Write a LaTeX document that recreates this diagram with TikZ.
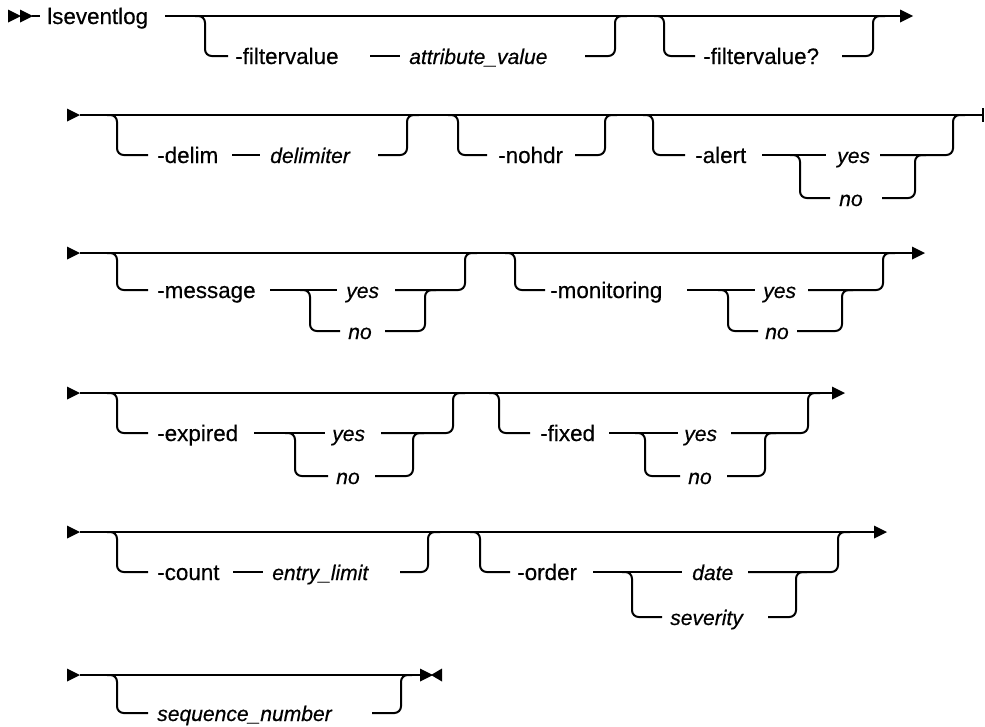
\documentclass[tikz,border=0pt]{standalone}
\usepackage{fontspec}
\setmainfont{Liberation Sans}
\newfontfamily\railfont[FakeBold=0.4]{Liberation Sans}
\begin{document}
\begin{tikzpicture}[x=0.75pt,y=-0.75pt,
  rail/.style={line width=1.5pt, rounded corners=5pt},
  kw/.style={anchor=base west, inner sep=0pt, font=\railfont\fontsize{16.8pt}{19pt}\selectfont},
  vr/.style={anchor=base west, inner sep=0pt, font=\railfont\fontsize{15.8pt}{19pt}\selectfont\itshape},
  rtri/.pic={\fill (0,-6.5) -- (13,0) -- (0,6.5) -- cycle;},
  ltri/.pic={\fill (0,-6.5) -- (-11,0) -- (0,6.5) -- cycle;}]
\useasboundingbox (0,0) rectangle (985,726);

% ---------------- Row 1 ----------------
\pic at (8,16) {rtri};
\pic at (20,16) {rtri};
\coordinate (s0) at (32,16); \coordinate (s1) at (40,16);
\draw[rail] (s0) -- (s1);
\node[kw] (cmd) at (47,24) {lseventlog};
\coordinate (r1a) at (165,16); \coordinate (r1z) at (900,16);
\draw[rail] (r1a) -- (r1z); \pic at (r1z) {rtri};
% -filtervalue attribute_value
\coordinate (a0) at (195,16); \coordinate (a1) at (205,56); \coordinate (a2) at (228,56);
\draw[rail] (a0) -| (a1) -- (a2);
\node[kw] (fv) at (235,64) {-filtervalue};
\coordinate (a3) at (370,56); \coordinate (a4) at (400,56);
\draw[rail] (a3) -- (a4);
\node[vr] (av) at (409,64) {attribute\_value};
\coordinate (a5) at (585,56); \coordinate (a6) at (615,16); \coordinate (a7) at (627,16);
\draw[rail] (a5) -| (a6) -- (a7);
% -filtervalue?
\coordinate (b0) at (654,16); \coordinate (b1) at (664,56); \coordinate (b2) at (695,56);
\draw[rail] (b0) -| (b1) -- (b2);
\node[kw] (fq) at (703,64) {-filtervalue?};
\coordinate (b3) at (842,56); \coordinate (b4) at (873,16); \coordinate (b5) at (885,16);
\draw[rail] (b3) -| (b4) -- (b5);

% ---------------- Row 2 ----------------
\pic at (67,115) {rtri};
\coordinate (r2a) at (80,115); \coordinate (r2z) at (983,115);
\draw[rail] (r2a) -- (r2z);
\coordinate (r2t1) at (983,108); \coordinate (r2t2) at (983,122);
\draw[line width=1.5pt] (r2t1) -- (r2t2);
% -delim delimiter
\coordinate (c0) at (107,115); \coordinate (c1) at (117,155); \coordinate (c2) at (148,155);
\draw[rail] (c0) -| (c1) -- (c2);
\node[kw] (dl) at (157,163) {-delim};
\coordinate (c3) at (232,155); \coordinate (c4) at (260,155);
\draw[rail] (c3) -- (c4);
\node[vr] (dv) at (270,163) {delimiter};
\coordinate (c5) at (378,155); \coordinate (c6) at (407,115); \coordinate (c7) at (419,115);
\draw[rail] (c5) -| (c6) -- (c7);
% -nohdr
\coordinate (d0) at (448,115); \coordinate (d1) at (458,155); \coordinate (d2) at (487,155);
\draw[rail] (d0) -| (d1) -- (d2);
\node[kw] (nh) at (498,163) {-nohdr};
\coordinate (d3) at (575,155); \coordinate (d4) at (605,115); \coordinate (d5) at (617,115);
\draw[rail] (d3) -| (d4) -- (d5);
% -alert yes|no
\coordinate (e0) at (643,115); \coordinate (e1) at (653,155); \coordinate (e2) at (685,155);
\draw[rail] (e0) -| (e1) -- (e2);
\node[kw] (al) at (695,163) {-alert};
\coordinate (e3) at (762,155); \coordinate (e4) at (826,155);
\draw[rail] (e3) -- (e4);
\node[vr] (ay) at (837,163) {yes};
\coordinate (e5) at (790,155); \coordinate (e6) at (800,198); \coordinate (e7) at (830,198);
\draw[rail] (e5) -| (e6) -- (e7);
\node[vr] (an) at (839,206) {no};
\coordinate (e8) at (882,198); \coordinate (e9) at (915,155); \coordinate (e10) at (926,155);
\draw[rail] (e8) -| (e9) -- (e10);
\coordinate (e11) at (880,155); \coordinate (e12) at (953,115); \coordinate (e13) at (965,115);
\draw[rail] (e11) -| (e12) -- (e13);

% ---------------- Row 3 ----------------
\pic at (67,253) {rtri};
\coordinate (r3a) at (80,253); \coordinate (r3z) at (912,253);
\draw[rail] (r3a) -- (r3z); \pic at (r3z) {rtri};
% -message yes|no
\coordinate (f0) at (107,253); \coordinate (f1) at (117,290); \coordinate (f2) at (148,290);
\draw[rail] (f0) -| (f1) -- (f2);
\node[kw] (ms) at (157,298) {-message};
\coordinate (f3) at (270,290); \coordinate (f4) at (337,290);
\draw[rail] (f3) -- (f4);
\node[vr] (my) at (346,298) {yes};
\coordinate (f5) at (300,290); \coordinate (f6) at (310,331); \coordinate (f7) at (340,331);
\draw[rail] (f5) -| (f6) -- (f7);
\node[vr] (mn) at (348,339) {no};
\coordinate (f8) at (385,331); \coordinate (f9) at (425,290); \coordinate (f10) at (436,290);
\draw[rail] (f8) -| (f9) -- (f10);
\coordinate (f11) at (395,290); \coordinate (f12) at (465,253); \coordinate (f13) at (477,253);
\draw[rail] (f11) -| (f12) -- (f13);
% -monitoring yes|no
\coordinate (g0) at (505,253); \coordinate (g1) at (515,290); \coordinate (g2) at (545,290);
\draw[rail] (g0) -| (g1) -- (g2);
\node[kw] (mo) at (550,298) {-monitoring};
\coordinate (g3) at (687,290); \coordinate (g4) at (755,290);
\draw[rail] (g3) -- (g4);
\node[vr] (gy) at (763,298) {yes};
\coordinate (g5) at (718,290); \coordinate (g6) at (728,331); \coordinate (g7) at (758,331);
\draw[rail] (g5) -| (g6) -- (g7);
\node[vr] (gn) at (765,339) {no};
\coordinate (g8) at (797,331); \coordinate (g9) at (842,290); \coordinate (g10) at (853,290);
\draw[rail] (g8) -| (g9) -- (g10);
\coordinate (g11) at (808,290); \coordinate (g12) at (883,253); \coordinate (g13) at (895,253);
\draw[rail] (g11) -| (g12) -- (g13);

% ---------------- Row 4 ----------------
\pic at (67,393) {rtri};
\coordinate (r4a) at (80,393); \coordinate (r4z) at (832,393);
\draw[rail] (r4a) -- (r4z); \pic at (r4z) {rtri};
% -expired yes|no
\coordinate (h0) at (107,393); \coordinate (h1) at (117,433); \coordinate (h2) at (148,433);
\draw[rail] (h0) -| (h1) -- (h2);
\node[kw] (ex) at (157,441) {-expired};
\coordinate (h3) at (254,433); \coordinate (h4) at (325,433);
\draw[rail] (h3) -- (h4);
\node[vr] (hy) at (332,441) {yes};
\coordinate (h5) at (285,433); \coordinate (h6) at (295,476); \coordinate (h7) at (328,476);
\draw[rail] (h5) -| (h6) -- (h7);
\node[vr] (hn) at (336,484) {no};
\coordinate (h8) at (375,476); \coordinate (h9) at (413,433); \coordinate (h10) at (424,433);
\draw[rail] (h8) -| (h9) -- (h10);
\coordinate (h11) at (381,433); \coordinate (h12) at (453,393); \coordinate (h13) at (465,393);
\draw[rail] (h11) -| (h12) -- (h13);
% -fixed yes|no
\coordinate (i0) at (489,393); \coordinate (i1) at (499,433); \coordinate (i2) at (530,433);
\draw[rail] (i0) -| (i1) -- (i2);
\node[kw] (fx) at (540,441) {-fixed};
\coordinate (i3) at (609,433); \coordinate (i4) at (678,433);
\draw[rail] (i3) -- (i4);
\node[vr] (iy) at (684,441) {yes};
\coordinate (i5) at (635,433); \coordinate (i6) at (645,476); \coordinate (i7) at (680,476);
\draw[rail] (i5) -| (i6) -- (i7);
\node[vr] (in) at (688,484) {no};
\coordinate (i8) at (727,476); \coordinate (i9) at (765,433); \coordinate (i10) at (776,433);
\draw[rail] (i8) -| (i9) -- (i10);
\coordinate (i11) at (731,433); \coordinate (i12) at (808,393); \coordinate (i13) at (820,393);
\draw[rail] (i11) -| (i12) -- (i13);

% ---------------- Row 5 ----------------
\pic at (67,532) {rtri};
\coordinate (r5a) at (80,532); \coordinate (r5z) at (874,532);
\draw[rail] (r5a) -- (r5z); \pic at (r5z) {rtri};
% -count entry_limit
\coordinate (j0) at (107,532); \coordinate (j1) at (117,572); \coordinate (j2) at (148,572);
\draw[rail] (j0) -| (j1) -- (j2);
\node[kw] (ct) at (157,580) {-count};
\coordinate (j3) at (233,572); \coordinate (j4) at (263,572);
\draw[rail] (j3) -- (j4);
\node[vr] (el) at (272,580) {entry\_limit};
\coordinate (j5) at (400,572); \coordinate (j6) at (428,532); \coordinate (j7) at (440,532);
\draw[rail] (j5) -| (j6) -- (j7);
% -order date|severity
\coordinate (k0) at (470,532); \coordinate (k1) at (480,572); \coordinate (k2) at (510,572);
\draw[rail] (k0) -| (k1) -- (k2);
\node[kw] (od) at (517,580) {-order};
\coordinate (k3) at (593,572); \coordinate (k4) at (682,572);
\draw[rail] (k3) -- (k4);
\node[vr] (dt) at (692,580) {date};
\coordinate (k5) at (622,572); \coordinate (k6) at (632,617); \coordinate (k7) at (662,617);
\draw[rail] (k5) -| (k6) -- (k7);
\node[vr] (sv) at (670,625) {severity};
\coordinate (k8) at (768,617); \coordinate (k9) at (796,572); \coordinate (k10) at (807,572);
\draw[rail] (k8) -| (k9) -- (k10);
\coordinate (k11) at (748,572); \coordinate (k12) at (838,532); \coordinate (k13) at (850,532);
\draw[rail] (k11) -| (k12) -- (k13);

% ---------------- Row 6 ----------------
\pic at (67,675) {rtri};
\coordinate (r6a) at (80,675); \coordinate (r6z) at (420,675);
\draw[rail] (r6a) -- (r6z);
\pic at (420,675) {rtri};
\pic at (442,675) {ltri};
% sequence_number
\coordinate (l0) at (107,675); \coordinate (l1) at (117,713); \coordinate (l2) at (148,713);
\draw[rail] (l0) -| (l1) -- (l2);
\node[vr] (sn) at (157,721) {sequence\_number};
\coordinate (l3) at (372,713); \coordinate (l4) at (401,675); \coordinate (l5) at (412,675);
\draw[rail] (l3) -| (l4) -- (l5);
\end{tikzpicture}
\end{document}
